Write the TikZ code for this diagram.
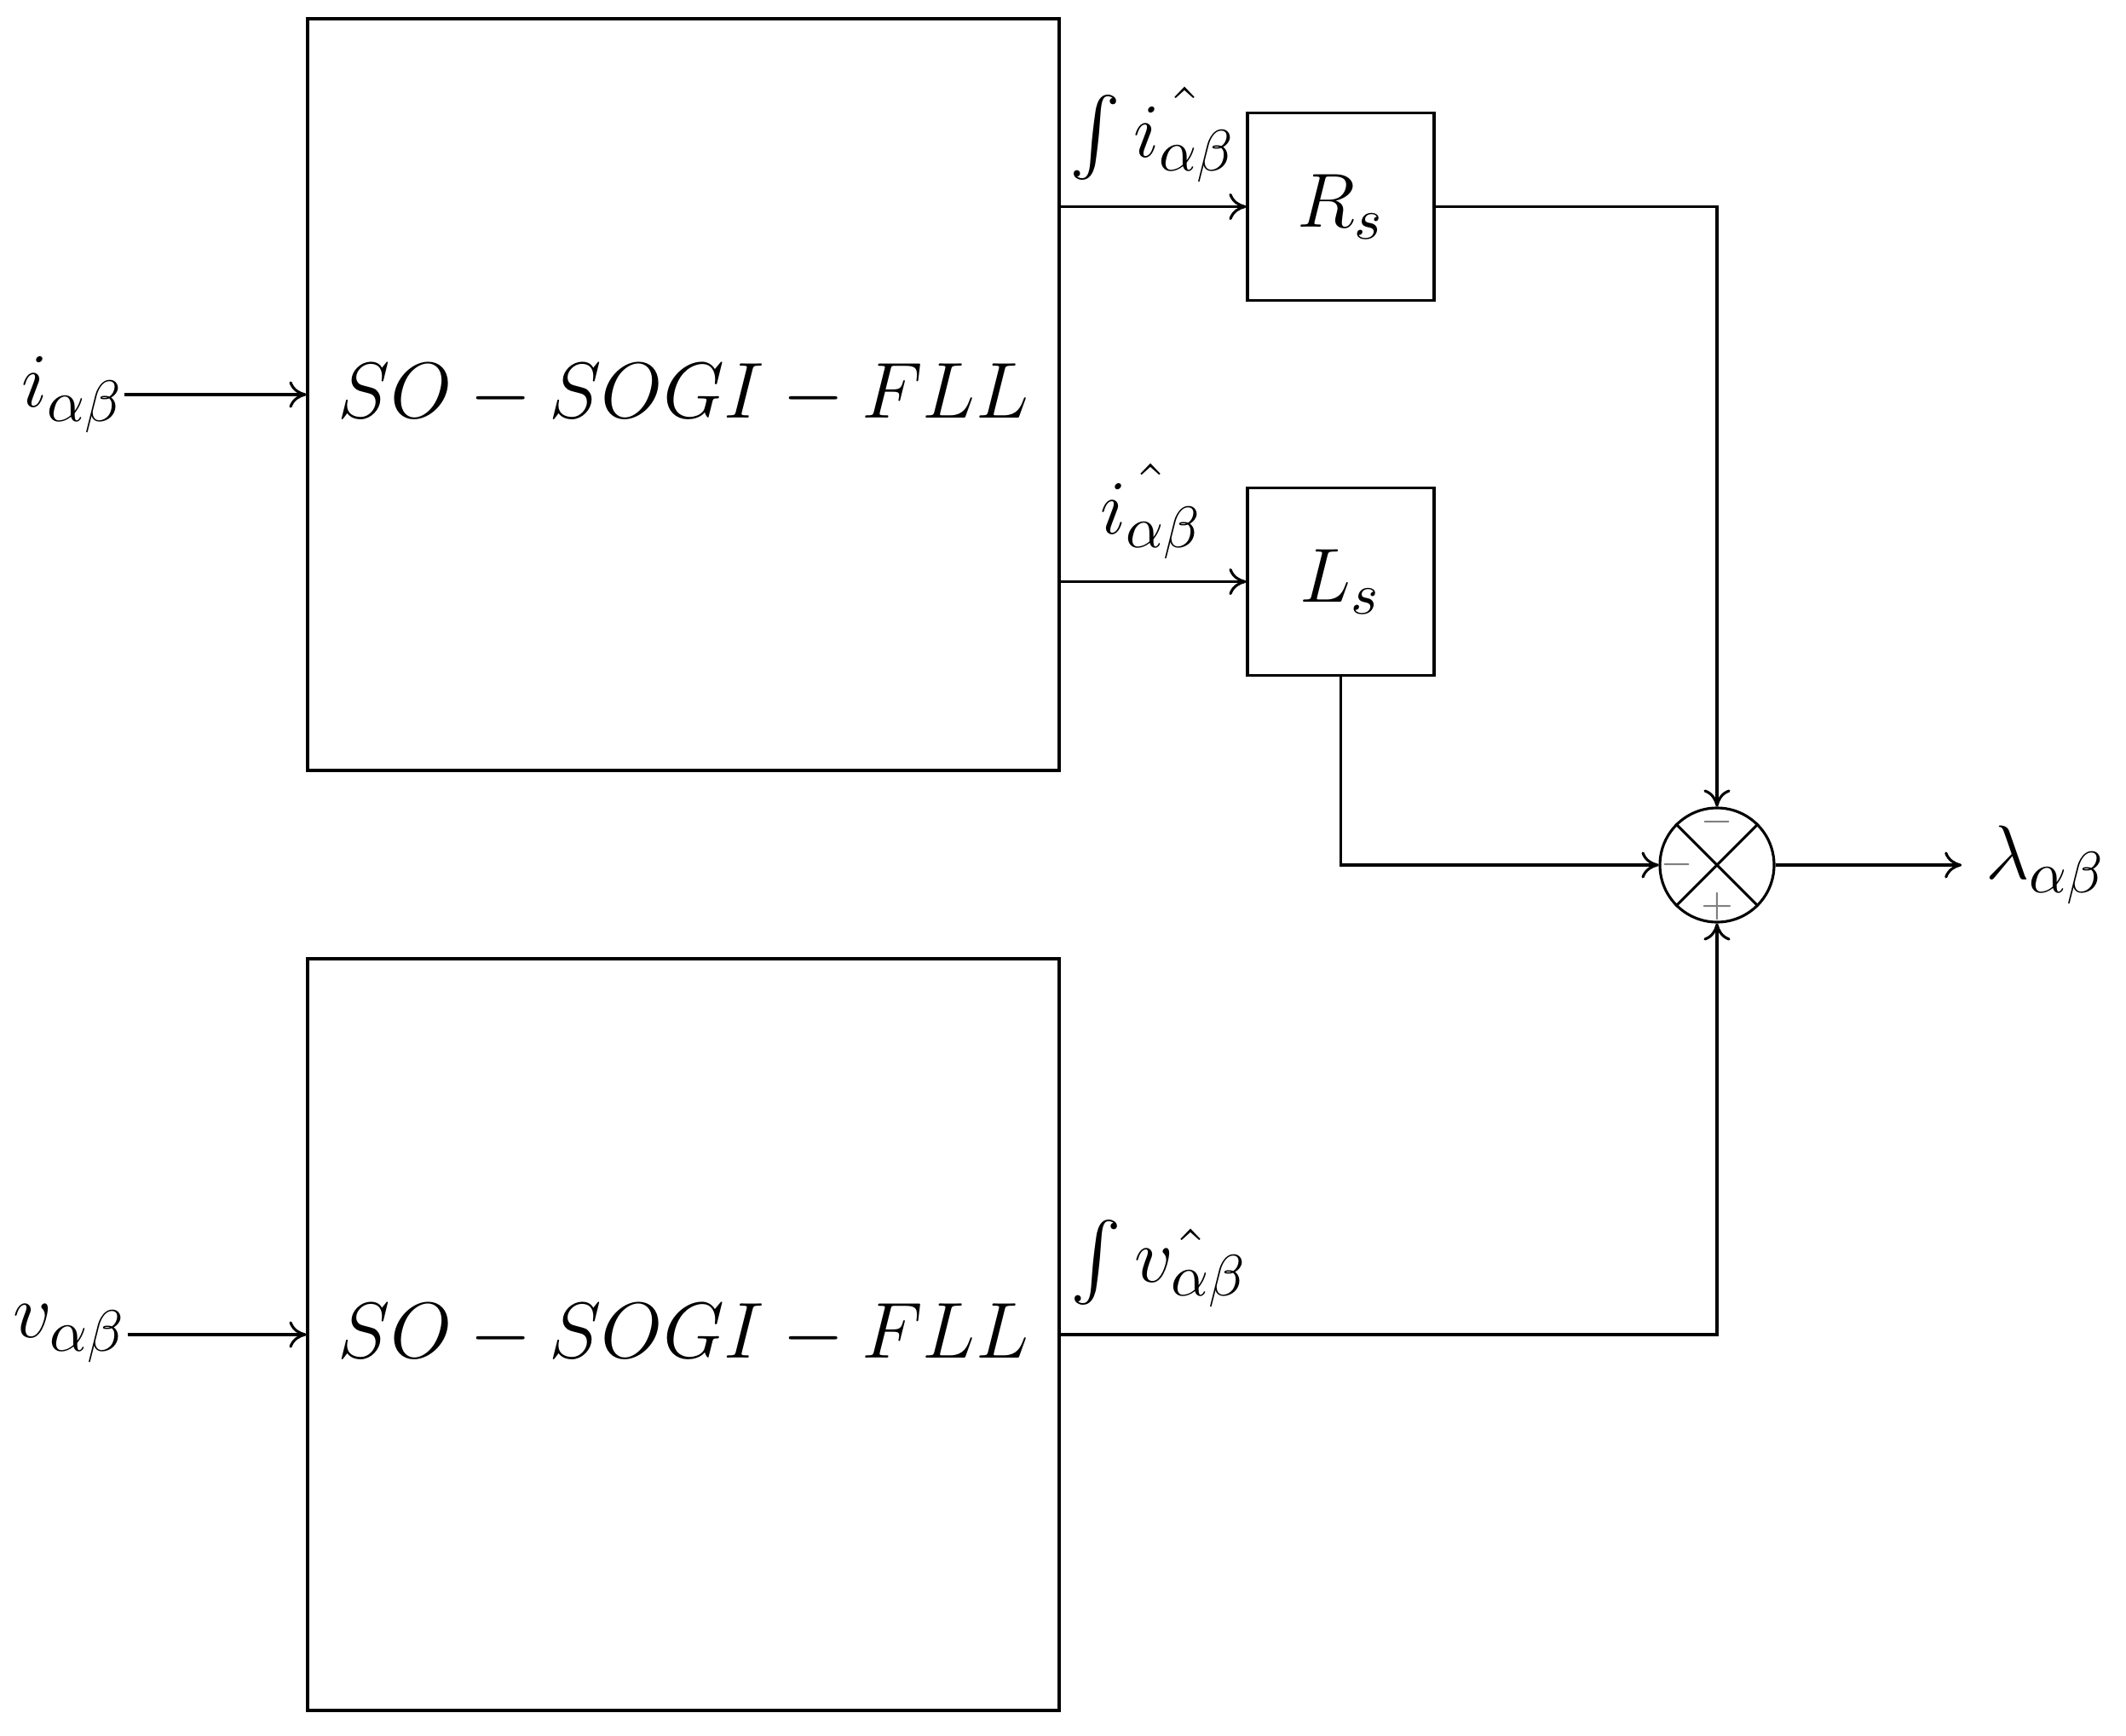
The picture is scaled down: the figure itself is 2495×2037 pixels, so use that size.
\documentclass[tikz,border=0pt]{standalone}
\usepackage{amsmath}
\usepackage{graphicx}
\usetikzlibrary{arrows.meta}
\begin{document}
\begin{tikzpicture}[x=0.16pt,y=-0.16pt,
  line width=0.5pt,
  >={To[length=3.2pt,width=5pt]},
  every node/.style={font=\fontsize{15}{18}\selectfont},
  bigblk/.style={draw, inner sep=0pt, minimum width=141.12pt, minimum height=141.12pt},
  smblk/.style={draw, inner sep=0pt, minimum width=35.04pt, minimum height=35.2pt},
  sumnode/.style={draw, circle, inner sep=0pt, minimum size=21.44pt},
  sgn/.style={text=gray, inner sep=0pt, font=\fontsize{7}{8}\selectfont},
  lbl/.style={inner sep=0pt}]
\useasboundingbox (0,0) rectangle (2495,2037);
% blocks
\node[bigblk] (f1) at (802,463) {\scalebox{1.035}{$SO-SOGI-FLL$}};
\node[bigblk] (f2) at (802,1566) {\scalebox{1.035}{$SO-SOGI-FLL$}};
\node[smblk] (rs) at (1573.5,242.5) {$R_s$};
\node[smblk] (ls) at (1573.5,682.5) {$L_s$};
\node[sumnode] (s) at (2015,1015) {};
\draw (s.45) -- (s.225);
\draw (s.135) -- (s.315);
\node[sgn] (st) at (2015,965) {$-$};
\node[sgn] (sl) at (1968,1015) {$-$};
\node[sgn] (sb) at (2015,1064) {$+$};
% inputs / outputs
\node[lbl] (iin) at (85,463) {$i_{\alpha\beta}$};
\node[lbl] (vin) at (82,1565) {$v_{\alpha\beta}$};
\node[lbl, anchor=west] (lam) at (2329,1015) {$\lambda_{\alpha\beta}$};
% signal labels
\node[lbl] (l1) at (1353,158) {$\int \hat{i_{\alpha\beta}}$};
\node[lbl] (l2) at (1351,600) {$\hat{i_{\alpha\beta}}$};
\node[lbl] (l3) at (1360,1483) {$\int \hat{v_{\alpha\beta}}$};
% connectors
\draw[->] (iin.east |- f1.west) -- (f1.west);
\draw[->] (vin.east |- f2.west) -- (f2.west);
\draw[->] (f1.east |- rs.west) -- (rs.west);
\draw[->] (f1.east |- ls.west) -- (ls.west);
\draw[->] (rs.east) -| (s.north);
\draw[->] (ls.south) |- (s.west);
\draw[->] (f2.east) -| (s.south);
\draw[->] (s.east) -- ([xshift=-4.3pt]lam.west);
\end{tikzpicture}
\end{document}
